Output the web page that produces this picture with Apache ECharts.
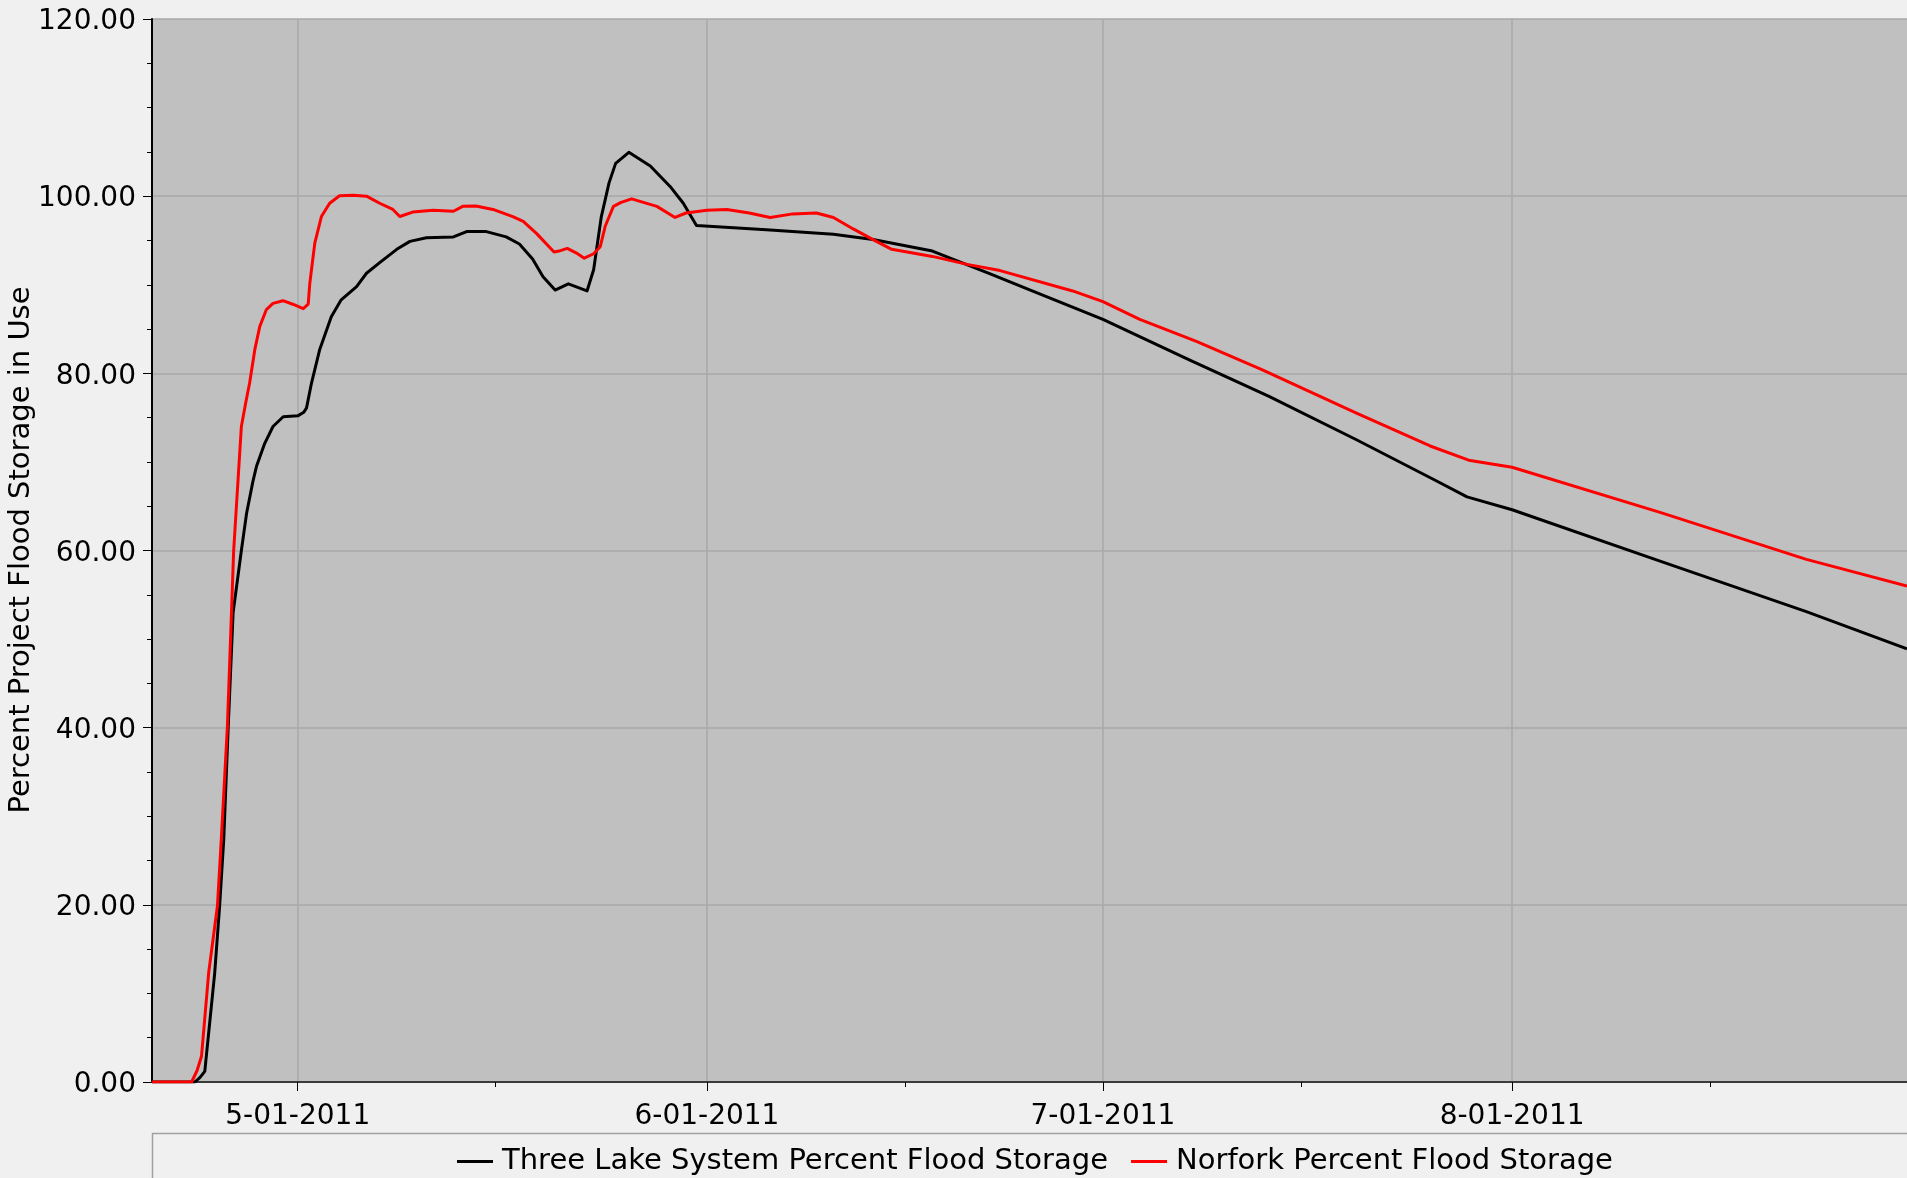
<!DOCTYPE html>
<html>
<head>
<meta charset="utf-8">
<title>Percent Flood Storage</title>
<script src="https://cdn.jsdelivr.net/npm/echarts@6/dist/echarts.min.js"></script>
<style>
  html, body { margin: 0; padding: 0; background: #f0f0f0; }
  #chart { width: 1907px; height: 1178px; }
</style>
</head>
<body>
<div id="chart"></div>
<script>
// Three Lake System
let blackTimes = [
  '2011-04-19 23:00', '2011-04-23 05:00', '2011-04-23 14:00', '2011-04-23 23:00', '2011-04-24 17:00',
  '2011-04-25 02:00', '2011-04-25 09:30', '2011-04-25 17:30', '2011-04-26 02:30', '2011-04-26 17:30',
  '2011-04-27 03:00', '2011-04-27 14:30', '2011-04-27 21:00', '2011-04-28 12:00', '2011-04-29 03:00',
  '2011-04-29 21:30', '2011-05-01 00:00', '2011-05-01 11:00', '2011-05-01 16:00', '2011-05-02 01:00',
  '2011-05-02 16:00', '2011-05-03 13:00', '2011-05-04 07:00', '2011-05-05 11:00', '2011-05-06 05:00',
  '2011-05-07 05:00', '2011-05-08 12:00', '2011-05-09 12:00', '2011-05-10 18:00', '2011-05-12 19:00',
  '2011-05-13 19:00', '2011-05-15 07:00', '2011-05-16 19:00', '2011-05-17 19:00', '2011-05-18 19:00',
  '2011-05-19 14:00', '2011-05-20 12:00', '2011-05-21 12:00', '2011-05-22 22:00', '2011-05-23 10:00',
  '2011-05-24 00:00', '2011-05-24 14:00', '2011-05-25 02:00', '2011-05-26 02:00', '2011-05-27 17:00',
  '2011-05-29 05:00', '2011-05-30 05:00', '2011-05-31 05:00', '2011-06-05 12:00', '2011-06-10 14:00',
  '2011-06-13 14:00', '2011-06-18 02:00', '2011-06-22 10:00', '2011-06-25 12:00', '2011-07-01 00:00',
  '2011-07-07 14:00', '2011-07-13 14:00', '2011-07-20 05:00', '2011-07-26 05:00', '2011-07-28 14:00',
  '2011-08-01 00:00', '2011-08-12 05:00', '2011-08-23 07:00', '2011-08-30 22:00'
]
let blackValues = [
  0, 0, 0.5, 1.2, 12.3,
  19.9, 27.4, 40, 53, 60,
  64.2, 67.8, 69.5, 72.1, 74.0,
  75.1, 75.2, 75.6, 76.1, 78.9,
  82.7, 86.4, 88.3, 89.8, 91.3,
  92.5, 94.0, 94.9, 95.3, 95.4,
  96.0, 96.0, 95.4, 94.6, 92.9,
  90.9, 89.4, 90.1, 89.3, 91.7,
  97.7, 101.5, 103.7, 104.95, 103.4,
  101.1, 99.2, 96.7, 96.2, 95.7,
  95.1, 93.8, 91.25, 89.4, 86.1,
  81.5, 77.4, 72.5, 67.9, 66.05,
  64.6, 58.8, 53.1, 48.9
]

// Norfork
let redTimes = [
  '2011-04-19 23:00', '2011-04-22 23:00', '2011-04-23 09:00', '2011-04-23 17:00', '2011-04-24 06:00',
  '2011-04-24 22:00', '2011-04-25 05:00', '2011-04-25 16:00', '2011-04-25 23:30', '2011-04-26 03:30',
  '2011-04-26 11:30', '2011-04-26 17:30', '2011-04-27 01:30', '2011-04-27 08:30', '2011-04-27 18:00',
  '2011-04-28 03:00', '2011-04-28 15:00', '2011-04-29 03:00', '2011-04-29 21:00', '2011-04-30 15:00',
  '2011-05-01 10:00', '2011-05-01 19:00', '2011-05-01 22:00', '2011-05-02 07:00', '2011-05-02 19:00',
  '2011-05-03 10:00', '2011-05-04 04:00', '2011-05-05 05:00', '2011-05-06 05:00', '2011-05-07 05:00',
  '2011-05-08 05:00', '2011-05-08 17:30', '2011-05-09 17:00', '2011-05-11 06:00', '2011-05-12 19:00',
  '2011-05-13 12:00', '2011-05-14 12:00', '2011-05-15 19:00', '2011-05-17 07:00', '2011-05-18 02:00',
  '2011-05-19 02:00', '2011-05-20 10:00', '2011-05-20 19:00', '2011-05-21 10:00', '2011-05-22 02:00',
  '2011-05-22 17:00', '2011-05-23 10:00', '2011-05-23 22:00', '2011-05-24 07:00', '2011-05-24 22:00',
  '2011-05-25 12:00', '2011-05-26 07:00', '2011-05-28 05:00', '2011-05-29 14:00', '2011-05-30 10:00',
  '2011-06-01 00:00', '2011-06-02 12:00', '2011-06-04 05:00', '2011-06-05 19:00', '2011-06-07 12:00',
  '2011-06-09 07:00', '2011-06-10 14:00', '2011-06-12 02:00', '2011-06-13 14:00', '2011-06-15 00:00',
  '2011-06-18 02:00', '2011-06-20 17:00', '2011-06-23 05:00', '2011-06-28 17:00', '2011-07-01 00:00',
  '2011-07-03 19:00', '2011-07-08 02:00', '2011-07-13 02:00', '2011-07-20 05:00', '2011-07-25 19:00',
  '2011-07-28 17:00', '2011-08-01 00:00', '2011-08-12 05:00', '2011-08-23 07:00', '2011-08-30 22:00'
]
let redValues = [
  0, 0, 1.3, 2.9, 12.3,
  19.9, 27.4, 40, 53, 60,
  68, 74, 76.7, 78.9, 82.7,
  85.3, 87.2, 87.9, 88.2, 87.8,
  87.3, 87.8, 90.2, 94.7, 97.7,
  99.2, 100.05, 100.1, 100.0, 99.2,
  98.5, 97.7, 98.2, 98.4, 98.3,
  98.85, 98.9, 98.5, 97.7, 97.15,
  95.8, 93.7, 93.8, 94.1, 93.6,
  93.0, 93.5, 94.3, 96.6, 98.85,
  99.3, 99.7, 98.85, 97.6, 98.1,
  98.4, 98.5, 98.1, 97.6, 98.0,
  98.1, 97.6, 96.3, 95.1, 94.0,
  93.2, 92.3, 91.6, 89.3, 88.1,
  86.1, 83.6, 80.4, 75.5, 71.8,
  70.2, 69.4, 64.3, 59.0, 56.0
]

let monthTicks = ['2011-05-01 00:00', '2011-06-01 00:00', '2011-07-01 00:00', '2011-08-01 00:00']
let midMonthTicks = ['2011-05-16 00:00', '2011-06-16 00:00', '2011-07-16 00:00', '2011-08-16 00:00']
let yTicks = [0, 20, 40, 60, 80, 100, 120]

let seriesNames = ['Three Lake System Percent Flood Storage', 'Norfork Percent Flood Storage']
let yTitle = 'Percent Project Flood Storage in Use'

// local time parse, 'YYYY-MM-DD HH:mm'
function toTime(s) {
  let parts = s.split(' ')
  let d = parts[0].split('-')
  let t = parts[1].split(':')
  return new Date(+d[0], d[1] - 1, +d[2], +t[0], +t[1]).getTime()
}

function fmtDate(v) {
  let d = new Date(v)
  let day = d.getDate() < 10 ? '0' + d.getDate() : '' + d.getDate()
  return (d.getMonth() + 1) + '-' + day + '-' + d.getFullYear()
}

let font = 'DejaVu Sans'
let axisMin = toTime('2011-04-19 23:00')
let axisMax = toTime('2011-08-30 22:00')

let chart = echarts.init(document.getElementById('chart'))

// x is a plain value axis in ms, ticks placed at month starts / mid months
let options = {
  backgroundColor: '#f0f0f0',
  animation: false,
  grid: {
    left: 152, right: 0, top: 19, bottom: 96,
    show: true, backgroundColor: '#c0c0c0', borderWidth: 0,
    containLabel: false, outerBoundsMode: 'none'
  },
  legend: {
    left: 457, top: 1147, padding: 0,
    itemGap: 23, itemWidth: 36, itemHeight: 3, icon: 'rect',
    textStyle: {fontSize: 29, fontFamily: font, color: '#000', padding: [0, 0, 0, 4]},
    data: seriesNames
  },
  xAxis: [{
    type: 'value', min: axisMin, max: axisMax, scale: true,
    axisLine: {lineStyle: {color: '#3a3a3a', width: 2}},
    axisTick: {customValues: monthTicks.map(toTime), length: 9, lineStyle: {color: '#000', width: 1}},
    axisLabel: {
      customValues: monthTicks.map(toTime), formatter: fmtDate,
      margin: 21, fontSize: 28, fontFamily: font, color: '#000'
    },
    splitLine: {show: true, lineStyle: {color: '#a8a8a8', width: 1.5}}
  }, {
    type: 'value', min: axisMin, max: axisMax, scale: true, position: 'bottom',
    axisLine: {show: false},
    axisLabel: {show: false},
    splitLine: {show: false},
    axisTick: {customValues: midMonthTicks.map(toTime), length: 5, lineStyle: {color: '#000', width: 1}}
  }],
  yAxis: {
    type: 'value', min: yTicks[0], max: yTicks[yTicks.length - 1], interval: yTicks[1] - yTicks[0],
    axisLine: {show: true, lineStyle: {color: '#000', width: 2}},
    axisTick: {show: true, length: 9, lineStyle: {color: '#000'}},
    minorTick: {show: true, splitNumber: 4, length: 5, lineStyle: {color: '#000'}},
    axisLabel: {
      // rich padding nudges the numbers a little lower, like the original
      formatter: v => '{n|' + v.toFixed(2) + '}', margin: 16,
      rich: {n: {fontSize: 28, fontFamily: font, color: '#000', padding: [6, 0, 0, 0]}}
    },
    splitLine: {show: true, lineStyle: {color: '#a8a8a8', width: 1.5}}
  },
  graphic: [{
    type: 'rect',
    shape: {x: 152.5, y: 1133.5, width: 1780, height: 80},
    style: {fill: 'none', stroke: '#a0a0a0', lineWidth: 1.5},
    silent: true
  }, {
    type: 'text', x: 21, y: 550, rotation: Math.PI / 2,
    style: {text: yTitle, fontSize: 29, fontFamily: font, fill: '#000', align: 'center', verticalAlign: 'middle'}
  }],
  series: [{
    name: seriesNames[0],
    type: 'line',
    symbol: 'none',
    color: '#000000',
    lineStyle: {color: '#000000', width: 3, join: 'round'},
    data: blackTimes.map((t, i) => [toTime(t), blackValues[i]])
  }, {
    name: seriesNames[1],
    type: 'line',
    symbol: 'none',
    color: '#ff0000',
    lineStyle: {color: '#ff0000', width: 3, join: 'round'},
    data: redTimes.map((t, i) => [toTime(t), redValues[i]])
  }]
}
chart.setOption(options)
</script>
</body>
</html>
